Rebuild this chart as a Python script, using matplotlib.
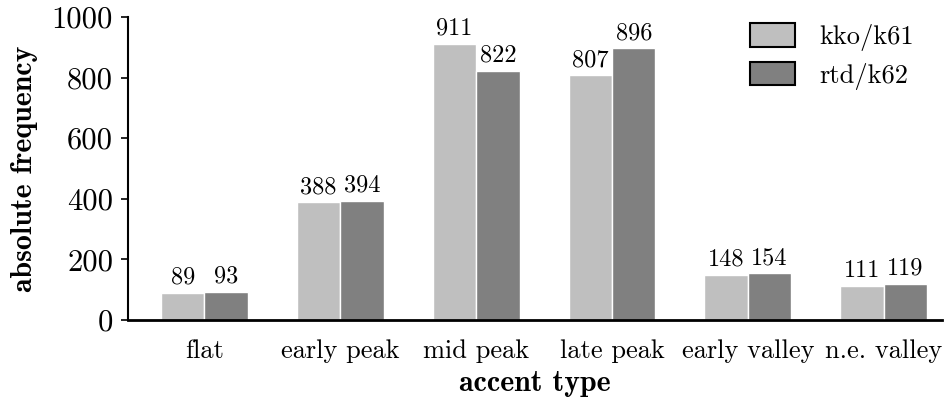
import numpy as np
import matplotlib
matplotlib.use("Agg")
import matplotlib.pyplot as plt
from matplotlib.patches import Patch

categories = ["flat", "early peak", "mid peak", "late peak", "early valley", "n.e. valley"]
kko_k61 = [89, 388, 911, 807, 148, 111]
rtd_k62 = [93, 394, 822, 896, 154, 119]
series_names = ["kko/k61", "rtd/k62"]
colors = ["#bfbfbf", "#808080"]
yticks = [0, 200, 400, 600, 800, 1000]

plt.rcParams["font.family"] = "cmr10"
plt.rcParams["mathtext.fontset"] = "cm"
plt.rcParams["axes.formatter.use_mathtext"] = True

fig = plt.figure(figsize=(9.44, 4.03), dpi=100)
ax = fig.add_axes([0.136, 0.206, 0.862, 0.752])

x = np.arange(len(categories))
w = 0.32
for i, (vals, name, c) in enumerate(zip([kko_k61, rtd_k62], series_names, colors)):
    pos = x + (i - 0.5) * w
    bars = ax.bar(pos, vals, width=w, color=c, edgecolor="white", linewidth=1.0, label=name)
    for b, v in zip(bars, vals):
        ax.text(b.get_x() + b.get_width() / 2, v + 14, str(v), ha="center", va="bottom",
                fontsize=17.5, fontfamily="cmr10")

ax.set_xlim(-0.56, 5.43)
ax.set_ylim(0, 1000)
ax.set_yticks(yticks)
ax.set_yticklabels([str(t) for t in yticks], fontsize=22)
ax.set_xticks(x)
ax.set_xticklabels(categories, fontsize=19)
ax.tick_params(axis="x", length=0, pad=14)
ax.tick_params(axis="y", length=5, width=1.2, pad=6)

for s in ["top", "right"]:
    ax.spines[s].set_visible(False)
ax.spines["left"].set_linewidth(1.5)
ax.spines["bottom"].set_linewidth(2)

ax.set_xlabel("accent type", fontsize=21.5, fontfamily="cmb10", labelpad=5)
ax.set_ylabel("absolute frequency", fontsize=21.5, fontfamily="cmb10", labelpad=10)

leg_handles = [Patch(facecolor=c, edgecolor="black", linewidth=1.5) for c in colors]
ax.legend(leg_handles, series_names, loc="upper right", frameon=False, fontsize=19,
          handlelength=1.7, handleheight=1.0, handletextpad=0.9, labelspacing=0.42,
          borderaxespad=0.0, bbox_to_anchor=(0.978, 1.015))

fig.savefig("out.png", dpi=100)
